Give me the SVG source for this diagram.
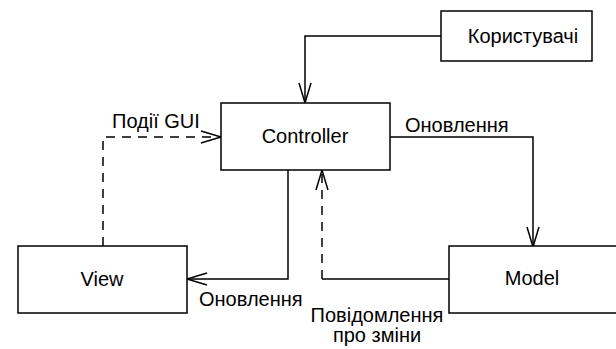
<svg xmlns="http://www.w3.org/2000/svg" width="616" height="349" viewBox="0 0 616 349">
<style>
.box{fill:#fff;stroke:#000;stroke-width:1.5}
.lbl{font-family:"Liberation Sans",Arial,sans-serif;font-size:20px;fill:#000}
.c{text-anchor:middle}
.ln{fill:none;stroke:#000;stroke-width:1.5}
.dash{stroke-dasharray:9 7}
</style>
<defs>
<marker id="arr" markerUnits="userSpaceOnUse" markerWidth="24" markerHeight="16" refX="0" refY="0" viewBox="-22 -8 24 16" orient="auto" overflow="visible">
<path d="M-20,-6 L0,0 L-20,6" fill="none" stroke="#000" stroke-width="1.5"/>
</marker>
</defs>
<rect width="616" height="349" fill="#fff"/>
<g id="connectors">
<path class="ln" d="M441,36 H305 V103" marker-end="url(#arr)"/>
<path class="ln" d="M390,137 H533 V247" marker-end="url(#arr)"/>
<path class="ln" d="M288,170 V279 H187" marker-end="url(#arr)"/>
<path class="ln" d="M449,279 H322"/>
<path class="ln dash" d="M322,279 V170" marker-end="url(#arr)"/>
<path class="ln dash" d="M103,246 V137 H221" marker-end="url(#arr)"/>
<text class="lbl" x="112" y="128">Події GUI</text>
<text class="lbl" x="405" y="132">Оновлення</text>
<text class="lbl" x="199" y="306">Оновлення</text>
<text class="lbl c" x="377" y="322">Повідомлення</text>
<text class="lbl c" x="377" y="342">про зміни</text>
</g>
<g id="users">
<rect class="box" x="441" y="11" width="151" height="50"/>
<text class="lbl c" x="523" y="43">Користувачі</text>
</g>
<g id="controller">
<rect class="box" x="221" y="103" width="169" height="67"/>
<text class="lbl c" x="305" y="143">Controller</text>
</g>
<g id="view">
<rect class="box" x="18" y="246" width="169" height="67"/>
<text class="lbl c" x="102" y="286">View</text>
</g>
<g id="model">
<rect class="box" x="449" y="246" width="170" height="67"/>
<text class="lbl c" x="532" y="285">Model</text>
</g>
</svg>
